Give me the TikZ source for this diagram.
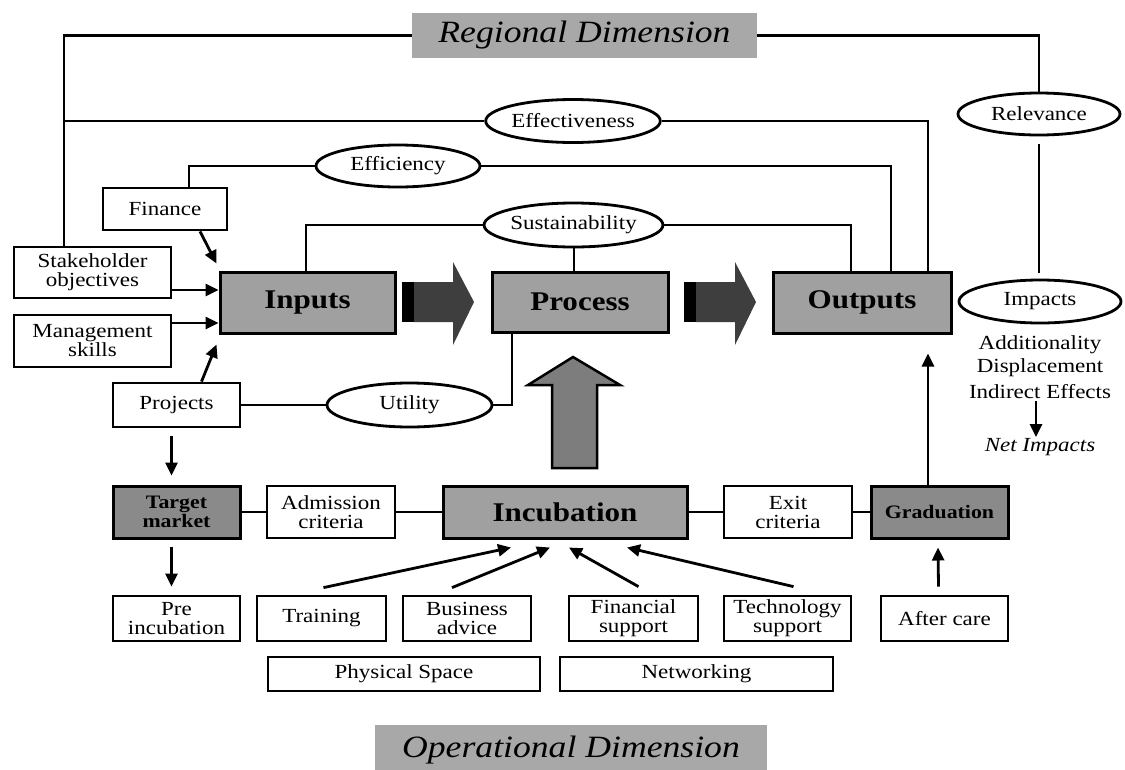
\documentclass[tikz,border=0pt]{standalone}
\usepackage{fontspec}
\setmainfont[FakeStretch=1.15]{Liberation Serif}
\usetikzlibrary{shapes.geometric,arrows.meta,calc}

\definecolor{boxgray}{RGB}{160,160,160}
\definecolor{darkfill}{RGB}{138,138,138}
\definecolor{dimfill}{RGB}{168,168,168}
\definecolor{upfill}{RGB}{125,125,125}
\definecolor{bodyfill}{RGB}{62,62,62}

\begin{document}
\begin{tikzpicture}[x=1pt,y=-1pt,
  every node/.style={font=\fontsize{20}{19}\selectfont, align=center, inner sep=0pt},
  plain/.style={draw, line width=2.8pt, fill=white},
  stage/.style={draw, line width=3pt, fill=boxgray, font=\fontsize{27}{27}\selectfont\bfseries},
  darkbox/.style={draw, line width=3pt, fill=darkfill, font=\fontsize{19}{17}\selectfont\bfseries},
  oval/.style={draw, ellipse, line width=2.8pt, fill=white},
  dimbox/.style={fill=dimfill, font=\fontsize{31}{31}\selectfont\itshape},
  conn/.style={line width=2.8pt},
  thinconn/.style={line width=2pt},
  arr/.style={line width=2.8pt, -{Triangle[length=13pt,width=12pt]}},
]
\clip (0,0) rectangle (1125,769);
\fill[white] (0,0) rectangle (1125,769);

% dimension banners
\node[dimbox, minimum width=345, minimum height=45] (reg) at (584.5,35.5) {Regional Dimension};
\node[dimbox, minimum width=392, minimum height=50] (oper) at (571,750) {Operational Dimension};

% inputs side
\node[plain, minimum width=124, minimum height=42] (fin) at (165,209) {Finance};
\node[plain, minimum width=157, minimum height=51] (stake) at (92.5,272.5) {Stakeholder\\objectives};
\node[plain, minimum width=157, minimum height=52] (mgmt) at (92.5,341) {Management\\skills};
\node[plain, minimum width=127, minimum height=44] (proj) at (176.5,405) {Projects};

% main stages
\node[stage, minimum width=175, minimum height=61] (inputs) at (307.5,302.5) {Inputs};
\node[stage, minimum width=176, minimum height=60] (process) at (580,302) {Process};
\node[stage, minimum width=178, minimum height=61] (outputs) at (862,302.5) {Outputs};

% evaluation criteria
\node[oval, minimum width=167, minimum height=43] (effec) at (573,121) {Effectiveness};
\node[oval, minimum width=164, minimum height=42] (effic) at (398,166) {Efficiency};
\node[oval, minimum width=167, minimum height=44] (sust) at (573.5,225) {Sustainability};
\node[oval, minimum width=165, minimum height=44] (util) at (409.5,405) {Utility};
\node[oval, minimum width=162, minimum height=42] (relev) at (1039,114) {Relevance};
\node[oval, minimum width=162, minimum height=43] (impacts) at (1040,301.5) {Impacts};

% impact components
\node (add) at (1040,345) {Additionality};
\node (disp) at (1040,368) {Displacement};
\node (indir) at (1040,392) {Indirect Effects};
\node[font=\fontsize{20}{20}\selectfont\itshape] (netimp) at (1040,447) {Net Impacts};

% incubation row
\node[darkbox, minimum width=127, minimum height=52] (target) at (176.5,512) {Target\\market};
\node[plain, minimum width=128, minimum height=52] (admis) at (331,512) {Admission\\criteria};
\node[stage, minimum width=244, minimum height=52] (incub) at (565,512) {Incubation};
\node[plain, minimum width=128, minimum height=52] (exit) at (788,512) {Exit\\criteria};
\node[darkbox, minimum width=137, minimum height=52] (grad) at (939.5,512) {Graduation};

% services row
\node[plain, minimum width=127, minimum height=45] (pre) at (176.5,618.5) {Pre\\incubation};
\node[plain, minimum width=129, minimum height=45] (train) at (321.5,618.5) {\raisebox{-3pt}{Training}};
\node[plain, minimum width=128, minimum height=45] (busi) at (467,618.5) {Business\\advice};
\node[plain, minimum width=129, minimum height=45] (finsup) at (633.5,618.5) {Financial\\support};
\node[plain, minimum width=127, minimum height=45] (tech) at (787.5,618.5) {Technology\\support};
\node[plain, minimum width=127, minimum height=45] (after) at (944.5,618.5) {\raisebox{-3pt}{After care}};
\node[plain, minimum width=272, minimum height=34] (phys) at (404,674) {\raisebox{-5pt}{Physical Space}};
\node[plain, minimum width=273, minimum height=34] (net) at (696.5,674) {\raisebox{-5pt}{Networking}};

% block arrows
\fill[black] (402,282) rectangle (414,322);
\fill[bodyfill] (414,282) -- (453,282) -- (453,262) -- (474,302) -- (453,345) -- (453,322) -- (414,322) -- cycle;
\fill[black] (684,282) rectangle (696,322);
\fill[bodyfill] (696,282) -- (735,282) -- (735,262) -- (756,302) -- (735,345) -- (735,322) -- (696,322) -- cycle;
\draw[line width=2.5pt, fill=upfill] (552,468) -- (552,385) -- (528,385) -- (573,357) -- (620,385) -- (597,385) -- (597,468) -- cycle;

% helper positions of the vertical runs
\coordinate (xL) at (64,0);
\coordinate (xEff) at (928,0);
\coordinate (xEfi) at (891,0);
\coordinate (xSusR) at (851,0);
\coordinate (xSusL) at (306,0);
\coordinate (xFin) at (189,0);
\coordinate (xUt) at (512,0);
\coordinate (ya) at (0,290);
\coordinate (yb) at (0,323);

% criteria links
\draw[conn] (reg.west) -| (stake.north -| xL);
\draw[conn] (reg.east) -| (relev.north);
\draw[conn] (effec.west) -- (effec.west -| xL);
\draw[conn] (effec.east) -| (outputs.north -| xEff);
\draw[conn] (effic.west) -| (fin.north -| xFin);
\draw[conn] (effic.east) -| (outputs.north -| xEfi);
\draw[conn] (sust.west) -| (inputs.north -| xSusL);
\draw[conn] (sust.east) -| (outputs.north -| xSusR);
\draw[thinconn] (sust.south) -- (process.north -| sust.south);
\draw[conn, shorten <=8pt, shorten >=6pt] (relev.south) -- (relev.south |- impacts.north);
\draw[thinconn] (proj.east) -- (util.west);
\draw[conn] (util.east) -| (process.south -| xUt);

% flows into inputs
\draw[arr] ($(fin.south)+(35,0)$) -- ($(inputs.north west)+(-2,-7)$);
\draw[arr] (stake.east |- ya) -- (inputs.west |- ya);
\draw[arr] (mgmt.east |- yb) -- (inputs.west |- yb);
\draw[arr] ($(proj.north)+(25,0)$) -- ($(inputs.south west)+(-2,10)$);
\draw[arr] ($(proj.south)+(-5,8)$) -- ($(target.north)+(-5,-9)$);
\draw[arr] ($(target.south)+(-5,7)$) -- ($(pre.north)+(-5,-8)$);

% incubation row links
\draw[conn] (target.east) -- (admis.west);
\draw[conn] (admis.east) -- (incub.west);
\draw[conn] (incub.east) -- (exit.west);
\draw[conn] (exit.east) -- (grad.west);

% services feeding incubation
\draw[arr] ($(train.north)+(2,-7)$) -- ($(incub.south)+(-54,8)$);
\draw[arr] ($(busi.north)+(-15,-7)$) -- ($(incub.south)+(-15,8)$);
\draw[arr] ($(finsup.north)+(5,-8)$) -- ($(incub.south)+(4,8)$);
\draw[arr] ($(tech.north)+(6,-8)$) -- ($(incub.south)+(62,8)$);
\draw[arr] ($(after.north)+(-6,-8)$) -- ($(grad.south)+(-1.5,8)$);
\draw[arr] (grad.north -| xEff) -- ($(outputs.south -| xEff)+(0,19)$);

% net impacts
\draw[arr] ($(indir.south)+(-4,2)$) -- ($(netimp.north)+(-4,-1)$);
\end{tikzpicture}
\end{document}
